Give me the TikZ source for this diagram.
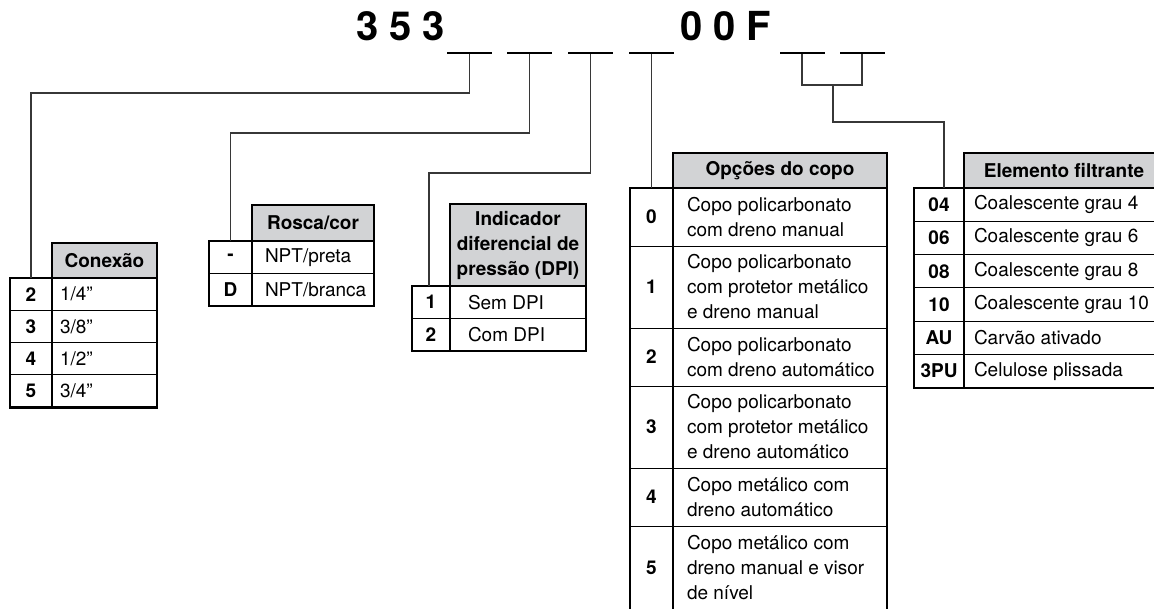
\documentclass[tikz,border=0pt]{standalone}
\usepackage{fontspec}
\setmainfont{TeX Gyre Heros}
\definecolor{hdrgray}{RGB}{210,211,213}
\definecolor{linegray}{RGB}{55,55,55}
\newcommand\myhfont{\fontsize{19}{25}\selectfont}
\newcommand\mytitlefont{\fontsize{40}{42}\selectfont\bfseries}
\tikzset{
  cellbase/.style={inner sep=0pt, outer sep=0pt, anchor=north west},
  hdr/.style={cellbase, draw=black, line width=2.4pt, fill=hdrgray, font=\myhfont\bfseries, align=center},
  keycell/.style={cellbase, draw=black, line width=1pt, font=\myhfont\bfseries, align=center},
  valcell/.style={cellbase, draw=black, line width=1pt},
  valtext/.style={anchor=west, inner sep=0pt, outer sep=0pt, font=\myhfont, align=left},
  outline/.style={draw=black, line width=2.6pt},
  divider/.style={draw=black, line width=2pt},
  conn/.style={draw=linegray, line width=1.3pt},
  dashbar/.style={fill=black, minimum width=45pt, minimum height=2.6pt, inner sep=0pt, outer sep=0pt},
  titletext/.style={anchor=base west, inner sep=0pt, outer sep=0pt, font=\mytitlefont}
}
% #1 name, #2 x, #3 y, #4 key width, #5 val width, #6 height, #7 key, #8 text, #9 inset
\newcommand\mytrow[9]{%
  \node[keycell, minimum width=#4, minimum height=#6] (#1k) at (#2,#3) {#7};
  \node[valcell, minimum width=#5, minimum height=#6] (#1v) at (#1k.north east) {};
  \node[valtext] (#1t) at ([xshift=#9]#1v.west) {#8};
}
\begin{document}
\begin{tikzpicture}[x=1pt,y=-1pt]
\useasboundingbox (0,0) rectangle (1154,608);
\clip (0,0) rectangle (1154,608);

% title
\node[titletext] (t1) at (356,40.5) {3 5 3};
\node[titletext] (t2) at (680,40.5) {0 0 F};

% blanks
\node[dashbar] (bar1) at (469.5,53) {};
\node[dashbar] (bar2) at (529.5,53) {};
\node[dashbar] (bar3) at (590.5,53) {};
\node[dashbar] (bar4) at (651.5,53) {};
\node[dashbar] (bar5) at (802,53) {};
\node[dashbar] (bar6) at (862,53) {};

% ---- Conexao
\mytrow{c1}{10}{278}{42}{105}{32.3}{2}{1/4”}{8}
\mytrow{c2}{10}{310.3}{42}{105}{32.3}{3}{3/8”}{8}
\mytrow{c3}{10}{342.6}{42}{105}{32.3}{4}{1/2”}{8}
\mytrow{c4}{10}{374.9}{42}{105}{32.3}{5}{3/4”}{8}
\node[hdr, anchor=south west, minimum width=105, minimum height=35] (ch) at (c1k.north east) {Conexão};
\draw[divider] (c1k.north east) -- (c4k.south east);
\draw[outline] (c1k.north west) rectangle (c4v.south east);

% ---- Rosca/cor
\mytrow{r1}{209}{241}{43}{122}{32.5}{-}{NPT/preta}{13}
\mytrow{r2}{209}{273.5}{43}{122}{32.5}{D}{NPT/branca}{13}
\node[hdr, anchor=south west, minimum width=122, minimum height=36] (rh) at (r1k.north east) {Rosca/cor};
\draw[divider] (r1k.north east) -- (r2k.south east);
\draw[outline] (r1k.north west) rectangle (r2v.south east);

% ---- DPI
\mytrow{p1}{412}{286}{38}{136}{32.5}{1}{Sem DPI}{18}
\mytrow{p2}{412}{318.5}{38}{136}{32.5}{2}{Com DPI}{18}
\node[hdr, anchor=south west, minimum width=136, minimum height=82] (ph) at (p1k.north east) {Indicador\\diferencial de\\pressão (DPI)};
\draw[divider] (p1k.north east) -- (p2k.south east);
\draw[outline] (p1k.north west) rectangle (p2v.south east);

% ---- Opcoes do copo
\mytrow{o0}{630}{188}{43}{214}{58}{0}{Copo policarbonato\\com dreno manual}{14}
\mytrow{o1}{630}{246}{43}{214}{82}{1}{Copo policarbonato\\com protetor metálico\\e dreno manual}{14}
\mytrow{o2}{630}{328}{43}{214}{58}{2}{Copo policarbonato\\com dreno automático}{14}
\mytrow{o3}{630}{386}{43}{214}{82}{3}{Copo policarbonato\\com protetor metálico\\e dreno automático}{14}
\mytrow{o4}{630}{468}{43}{214}{58}{4}{Copo metálico com\\dreno automático}{14}
\mytrow{o5}{630}{526}{43}{214}{84}{5}{Copo metálico com\\dreno manual e visor\\de nível}{14}
\node[hdr, anchor=south west, minimum width=214, minimum height=35] (oh) at (o0k.north east) {Opções do copo};
\draw[divider] (o0k.north east) -- (o5k.south east);
\draw[outline] (o0k.north west) rectangle (o5v.south east);

% ---- Elemento filtrante
\mytrow{e1}{914}{188}{50}{200}{33.3}{04}{Coalescente grau 4}{10}
\mytrow{e2}{914}{221.3}{50}{200}{33.3}{06}{Coalescente grau 6}{10}
\mytrow{e3}{914}{254.6}{50}{200}{33.3}{08}{Coalescente grau 8}{10}
\mytrow{e4}{914}{287.9}{50}{200}{33.3}{10}{Coalescente grau 10}{10}
\mytrow{e5}{914}{321.2}{50}{200}{33.3}{AU}{Carvão ativado}{10}
\mytrow{e6}{914}{354.5}{50}{200}{33.3}{3PU}{Celulose plissada}{10}
\node[hdr, anchor=south west, minimum width=200, minimum height=35] (eh) at (e1k.north east) {Elemento filtrante};
\draw[divider] (e1k.north east) -- (e6k.south east);
\draw[outline] (e1k.north west) rectangle (e6v.south east);

% ---- connectors
\coordinate (j1) at (469.5,93);
\draw[conn] (bar1.south) -- (j1) -| (c1k.north);
\coordinate (j2) at (529.5,133);
\draw[conn] (bar2.south) -- (j2) -| (r1k.north);
\coordinate (j3) at (590.5,173);
\draw[conn] (bar3.south) -- (j3) -| ([xshift=-2pt]p1k.north);
\draw[conn] (bar4.south) -- (o0k.north);
\coordinate (j5) at (802,85);
\coordinate (j6) at (862,85);
\draw[conn] (bar5.south) -- (j5) -- (j6) -- (bar6.south);
\coordinate (jm) at (833,85);
\coordinate (jr) at (833,122);
\draw[conn] (jm) -- (jr) -| ([xshift=5pt]e1k.north);
\end{tikzpicture}
\end{document}
